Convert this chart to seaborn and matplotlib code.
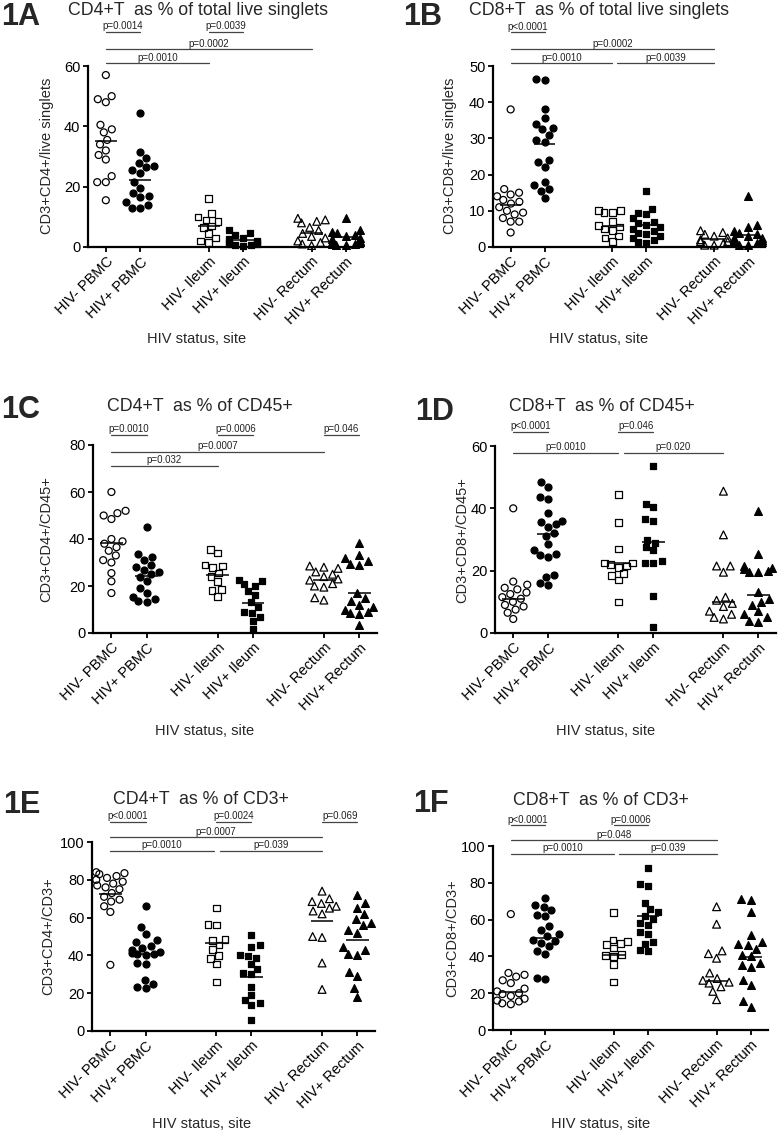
import numpy as np
import pandas as pd
import matplotlib
matplotlib.use("Agg")
import matplotlib.pyplot as plt
import seaborn as sns
import warnings
warnings.filterwarnings("ignore")

W, H = 778, 1133

groups = ["HIV- PBMC", "HIV+ PBMC", "HIV- Ileum", "HIV+ Ileum", "HIV- Rectum", "HIV+ Rectum"]
group_x = [0, 1, 3, 4, 6, 7]

# ---------------- data ----------------
# 1A  CD4+T as % of total live singlets
A_vals = [
    [57, 50, 49, 48, 40.5, 39, 38, 35.5, 34, 32, 30.5, 29, 23.5, 21.5, 21.5, 15.5],
    [44.5, 31.5, 29.5, 28, 27, 26.5, 25.5, 24.5, 21.5, 19.5, 18, 17, 16.5, 15, 14, 13, 13],
    [16, 11, 10, 9, 8.5, 7, 6.5, 4.5, 3, 2, 1.5],
    [5.5, 4.5, 4, 3, 2.5, 2, 1.5, 1.5, 1, 1, 0.5, 0.5, 0.3],
    [9.5, 9, 8.5, 8, 6.5, 5.5, 4.5, 3.5, 3, 2, 1.5, 1, 0.5],
    [9.5, 5.5, 5, 4.5, 4, 3.5, 3, 2.5, 2, 1.5, 1.5, 1, 1, 0.5, 0.5],
]
A_center = [35.1, 22.2, 7.0, 2.3, 4.8, 3.4]
A_yticks = [0, 20, 40, 60]
A_sig = [("p=0.0014", 0, 1, 71.3), ("p=0.0039", 3, 4, 71.3),
         ("p=0.0002", 0, 6, 65.6), ("p=0.0010", 0, 3, 61.0)]

# 1B  CD8+T as % of total live singlets
B_vals = [
    [38, 16, 15, 14.5, 14, 13, 12.5, 12, 11, 10, 9.5, 9, 8, 7, 7, 4],
    [46.5, 46, 38, 35.5, 34, 33, 32.5, 31, 29.5, 29, 24, 23.5, 22, 18, 17, 16, 15.5, 13.5],
    [10, 10, 9.5, 9.5, 7, 6, 5.5, 5, 4.5, 3, 2.5, 1.5],
    [15.5, 10.5, 9.5, 9, 8, 7, 6.5, 6, 5.5, 5, 4.5, 4, 3.5, 3, 2.5, 2, 1.5, 1],
    [4.5, 4, 3.5, 3, 2.5, 2, 1.5, 1.5, 1, 0.5, 0.5],
    [14, 6, 5.5, 4.5, 4, 3.5, 3, 2.5, 2.5, 2, 2, 1.5, 1, 1, 0.5, 0.5],
]
B_center = [11.6, 28.5, 5.8, 6.1, 2.2, 3.3]
B_yticks = [0, 10, 20, 30, 40, 50]
B_sig = [("p<0.0001", 0, 1, 59.4), ("p=0.0002", 0, 6, 54.7),
         ("p=0.0010", 0, 3, 50.8), ("p=0.0039", 3.15, 6, 50.8)]

# 1C  CD4+T as % of CD45+
C_vals = [
    [60, 52, 51, 50, 48.5, 40, 39, 38, 36.5, 35, 33, 31, 30, 25.5, 22, 17],
    [45, 33.5, 32.5, 31, 29, 28, 27, 26, 25, 24, 22, 19, 17, 15.5, 14.5, 13.5, 13],
    [35.5, 34, 29, 28.5, 28, 25.5, 24, 22, 18.5, 18, 15.5],
    [22.5, 22, 21, 20, 18, 16, 13, 11, 9, 8.5, 7, 5, 1.5],
    [28.5, 28, 27.5, 26, 25, 24, 23, 22.5, 21, 20, 19.5, 15, 14],
    [38.5, 33, 32, 30.5, 29.5, 29, 17, 15, 13.5, 12, 11, 10, 9, 8.5, 8, 3.5],
]
C_center = [38.2, 24.2, 24.7, 12.9, 22.6, 16.9]
C_yticks = [0, 20, 40, 60, 80]
C_sig = [("p=0.0010", 0, 1, 84.3), ("p=0.0006", 3, 4, 84.3), ("p=0.046", 6, 7, 84.3),
         ("p=0.0007", 0, 6, 77.2), ("p=0.032", 0, 3, 71.1)]

# 1D  CD8+T as % of CD45+
D_vals = [
    [40, 16.5, 15.5, 14.5, 14, 13, 12.5, 11.5, 11, 10, 9, 8.5, 7.5, 6.5, 4.5],
    [48.5, 47, 43.5, 43, 38.5, 36, 35.5, 35, 34, 32, 31, 28.5, 26.5, 25.5, 25, 24.5, 18.5, 18, 16, 15.5],
    [44.5, 35.5, 27, 22.5, 22.5, 22, 21.5, 21, 19, 18.5, 17, 10],
    [53.5, 41.5, 40.5, 36.5, 36, 30, 29, 27.5, 26.5, 23, 22.5, 22.5, 12, 2],
    [45.5, 31.5, 21.5, 21.5, 19.5, 11.5, 10.5, 9.5, 8.5, 7, 6, 5, 4.5],
    [39, 25.5, 21.5, 21, 20.5, 20, 19.5, 19.5, 13, 11, 10, 9, 7, 6, 5, 4, 3.5],
]
D_center = [10.9, 31.8, 22.4, 29.1, 9.9, 12.2]
D_yticks = [0, 20, 40, 60]
D_sig = [("p<0.0001", 0, 1, 64.6), ("p=0.046", 3, 4, 64.6),
         ("p=0.0010", 0, 3, 57.8), ("p=0.020", 3.15, 6, 57.8)]

# 1E  CD4+T as % of CD3+
E_vals = [
    [84, 83.5, 83, 82, 81, 80, 79, 78, 77, 76, 75, 73, 71, 69.5, 68.5, 66, 63, 35],
    [66, 55, 51.5, 48, 47, 45, 44, 43, 42, 41.5, 41, 40.5, 40, 36, 35.5, 27, 25, 23.5, 22.5],
    [65, 56.5, 56, 48.5, 48, 45.5, 43, 40, 38.5, 35.5, 26],
    [51, 45.5, 44.5, 40, 39.5, 38.5, 35.5, 33, 30.5, 30, 23.5, 19, 16.5, 15, 14, 6],
    [74, 70, 68.5, 67.5, 66, 65, 63.5, 62, 50, 49.5, 36, 22],
    [72, 67.5, 65, 62, 59.5, 57, 56, 53.5, 52, 44.5, 43, 41, 40, 31, 29, 22.5, 18],
]
E_center = [72.5, 40.7, 46.7, 28.4, 58.4, 48.1]
E_yticks = [0, 20, 40, 60, 80, 100]
E_sig = [("p<0.0001", 0, 1, 110.7), ("p=0.0024", 3, 4, 110.7), ("p=0.069", 6, 7, 110.7),
         ("p=0.0007", 0, 6, 102.5), ("p=0.0010", 0, 2.93, 95.4), ("p=0.039", 3.1, 6, 95.4)]

# 1F  CD8+T as % of CD3+
F_vals = [
    [63, 31, 30, 29, 27, 25.5, 22.5, 21, 20, 19.5, 18.5, 17, 16, 15.5, 14.5, 14],
    [72, 68, 67, 65, 62.5, 62, 56.5, 54.5, 52, 51, 49, 48.5, 47.5, 45.5, 43, 41.5, 28.5, 27.5],
    [64, 49, 48, 47, 46.5, 44.5, 41, 40.5, 40, 35.5, 26],
    [88, 79.5, 78, 69, 65.5, 64, 62, 60.5, 58, 57, 53.5, 52, 48, 47, 43.5, 43],
    [67, 57.5, 43, 41.5, 39, 31, 28, 27, 26, 25.5, 23.5, 21, 16.5],
    [71, 70.5, 64, 51.5, 48, 47, 46, 44, 41, 40, 36.5, 35.5, 34.5, 27, 24.5, 15.5, 12.5],
]
F_center = [20.5, 49.8, 40.8, 62.1, 26.8, 39.8]
F_yticks = [0, 20, 40, 60, 80, 100]
F_sig = [("p<0.0001", 0, 1, 111.4), ("p=0.0006", 3, 4, 111.4),
         ("p=0.048", 0, 6, 103.3), ("p=0.0010", 0, 3, 95.7), ("p=0.039", 3.15, 6, 95.7)]

titles = ["CD4+T  as % of total live singlets", "CD8+T  as % of total live singlets",
          "CD4+T  as % of CD45+", "CD8+T  as % of CD45+",
          "CD4+T  as % of CD3+", "CD8+T  as % of CD3+"]
ylabels = ["CD3+CD4+/live singlets", "CD3+CD8+/live singlets",
           "CD3+CD4+/CD45+", "CD3+CD8+/CD45+",
           "CD3+CD4+/CD3+", "CD3+CD8+/CD3+"]
panel_tags = ["1A", "1B", "1C", "1D", "1E", "1F"]
xlabel_text = "HIV status, site"

# ---------------- style / layout ----------------
sns.set_style("ticks")
plt.rcParams["font.family"] = ["Liberation Sans", "DejaVu Sans"]

markers = ["o", "o", "s", "s", "^", "^"]
filled = [False, True, False, True, False, True]
msizes = [5.0, 5.0, 4.8, 4.8, 5.6, 5.6]

panels = [
    dict(vals=A_vals, center=A_center, yticks=A_yticks, sig=A_sig,
         rect=(88, 66, 363, 247), tag=(1, 25), title=(68, 15), ylab=(47, 156), xlab=(197, 339)),
    dict(vals=B_vals, center=B_center, yticks=B_yticks, sig=B_sig,
         rect=(493, 66, 765, 247), tag=(403, 25), title=(469, 15), ylab=(450, 156), xlab=(599, 339)),
    dict(vals=C_vals, center=C_center, yticks=C_yticks, sig=C_sig,
         rect=(93, 445, 377, 633), tag=(1, 418), title=(107, 411), ylab=(46, 539), xlab=(205, 731)),
    dict(vals=D_vals, center=D_center, yticks=D_yticks, sig=D_sig,
         rect=(495, 446, 776, 633), tag=(415, 420), title=(509, 411), ylab=(462, 540), xlab=(606, 731)),
    dict(vals=E_vals, center=E_center, yticks=E_yticks, sig=E_sig,
         rect=(92, 842, 375, 1031), tag=(3, 813), title=(113, 804), ylab=(48, 936), xlab=(202, 1124)),
    dict(vals=F_vals, center=F_center, yticks=F_yticks, sig=F_sig,
         rect=(493, 846, 768, 1030), tag=(413, 812), title=(513, 805), ylab=(452, 938), xlab=(601, 1124)),
]

fig = plt.figure(figsize=(W / 100, H / 100), dpi=100)
fig.patch.set_facecolor("white")


def fx(x):
    return x / W


def fy(y):
    return 1 - y / H


for k, p in enumerate(panels):
    l, t, r, b = p["rect"]
    ax = fig.add_axes([fx(l), fy(b), (r - l) / W, (b - t) / H])
    ax.set_facecolor("none")

    for i, (vals, xpos) in enumerate(zip(p["vals"], group_x)):
        df = pd.DataFrame({"x": np.full(len(vals), float(xpos)), "y": vals})
        n0 = len(ax.collections)
        sns.swarmplot(data=df, x="x", y="y", native_scale=True, orient="x", ax=ax,
                      marker=markers[i], size=msizes[i], color="black",
                      edgecolor="black", linewidth=0.9, warn_thresh=1)
        for c in ax.collections[n0:]:
            c.set_clip_on(False)
            c.set_zorder(4)
            if not filled[i]:
                c.set_facecolor("none")

    gx = np.array(group_x, dtype=float)
    ax.hlines(p["center"], gx - 0.32, gx + 0.32, color="black", lw=1.1,
              clip_on=False, zorder=5)

    ymax = p["yticks"][-1]
    ax.set_xlim(-0.52, 7.5)
    ax.set_ylim(0, ymax)
    ax.set_yticks(p["yticks"])
    ax.set_xticks(group_x)
    ax.set_xticklabels(groups, rotation=45, ha="right", va="top",
                       rotation_mode="anchor", fontsize=10.5)
    ax.tick_params(axis="both", direction="out", length=3.5, width=1.3,
                   colors="black", labelsize=10.5, pad=2)
    ax.set_xlabel("")
    ax.set_ylabel("")
    ax.grid(False)
    for s in ["top", "right"]:
        ax.spines[s].set_visible(False)
    for s in ["left", "bottom"]:
        ax.spines[s].set_linewidth(1.6)
        ax.spines[s].set_color("black")

    for txt, x0, x1, yv in p["sig"]:
        ax.plot([x0, x1], [yv, yv], color="#444444", lw=0.9, clip_on=False)
        ax.annotate(txt, xy=((x0 + x1) / 2, yv), xytext=(0, 0.3),
                    textcoords="offset points", ha="center", va="bottom",
                    fontsize=7, annotation_clip=False, color="#222222")

    tx, ty = p["tag"]
    fig.text(fx(tx), fy(ty), panel_tags[k], fontsize=22, fontweight="bold",
             ha="left", va="baseline")
    tx, ty = p["title"]
    fig.text(fx(tx), fy(ty), titles[k], fontsize=12.8, ha="left", va="baseline")
    tx, ty = p["ylab"]
    fig.text(fx(tx), fy(ty), ylabels[k], fontsize=10.5, rotation=90,
             ha="center", va="center")
    tx, ty = p["xlab"]
    fig.text(fx(tx), fy(ty), xlabel_text, fontsize=10.5, ha="center", va="center")

fig.savefig("out.png", dpi=100, facecolor="white")
